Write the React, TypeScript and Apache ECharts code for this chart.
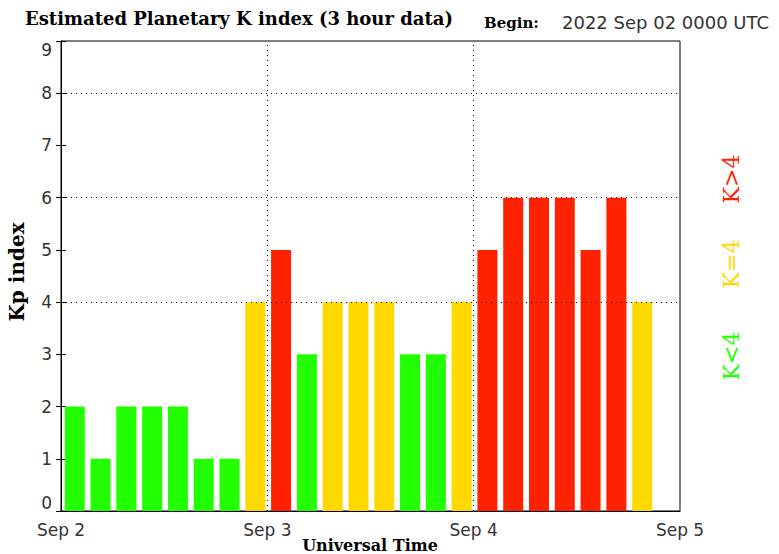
import React, { useEffect, useRef } from "react";
import * as echarts from "echarts";

const kpValues = [2, 1, 2, 2, 2, 1, 1, 4, 5, 3, 4, 4, 4, 3, 3, 4, 5, 6, 6, 6, 5, 6, 4];
const dayLabels = ["Sep 2", "Sep 3", "Sep 4", "Sep 5"];
const yTicks = [0, 1, 2, 3, 4, 5, 6, 7, 8, 9];
const gridLevels = [4, 6, 8];
const dayBoundaries = [24, 48];

const GREEN = "#22ff00";
const YELLOW = "#ffd800";
const RED = "#ff2200";

function colorFor(v: number) {
  if (v < 4) return GREEN;
  if (v === 4) return YELLOW;
  return RED;
}

export default function App() {
  const ref = useRef<HTMLDivElement>(null);
  useEffect(() => {
    if (!ref.current) return;
    const chart = echarts.init(ref.current, null, { renderer: "svg" });
    const barCenters = kpValues.map((_, i) => i * 3 + 1.6);
    const data = kpValues.map((v, i) => ({
      value: [barCenters[i], v],
      itemStyle: { color: colorFor(v) },
    }));
    const serif = "'DejaVu Serif', serif";
    const sans = "'DejaVu Sans', sans-serif";
    chart.setOption({
      animation: false,
      backgroundColor: "#fff",
      grid: {
        left: 61,
        top: 41,
        width: 619,
        height: 470,
        show: true,
        borderColor: "#000",
        borderWidth: 1,
      },
      xAxis: [
        {
          type: "value",
          min: 0,
          max: 72,
          interval: 24,
          axisLine: { show: true, lineStyle: { color: "#000", width: 1 } },
          axisTick: { show: false },
          splitLine: { show: false },
          axisLabel: {
            margin: 10,
            fontFamily: sans,
            fontSize: 17,
            color: "#333",
            formatter: (v: number) => dayLabels[Math.round(v / 24)] ?? "",
          },
        },
        {
          type: "value",
          min: 0,
          max: 72,
          position: "bottom",
          axisLine: { show: false },
          axisLabel: { show: false },
          splitLine: { show: false },
          axisTick: {
            show: true,
            inside: true,
            length: 6,
            customValues: barCenters,
            lineStyle: { color: "#fff", width: 1 },
          },
        },
      ],
      yAxis: [
        {
          type: "value",
          min: 0,
          max: 9,
          interval: 1,
          axisLine: { show: true, lineStyle: { color: "#000", width: 1 } },
          axisTick: { show: true, inside: true, length: 5, lineStyle: { color: "#000" } },
          splitLine: { show: false },
          axisLabel: {
            margin: 9,
            fontFamily: sans,
            fontSize: 17,
            color: "#333",
            verticalAlignMinLabel: "bottom",
            verticalAlignMaxLabel: "top",
            formatter: (v: number) => (yTicks.includes(v) ? String(v) : ""),
          },
        },
        {
          type: "value",
          min: 0,
          max: 9,
          interval: 1,
          position: "right",
          axisLine: { show: true, lineStyle: { color: "#000", width: 1 } },
          axisTick: { show: true, inside: true, length: 5, lineStyle: { color: "#000" } },
          splitLine: { show: false },
          axisLabel: { show: false },
        },
      ],
      series: [
        {
          type: "bar",
          xAxisIndex: 0,
          yAxisIndex: 0,
          barWidth: 20,
          data,
          z: 2,
          markLine: {
            silent: true,
            symbol: "none",
            label: { show: false },
            lineStyle: { type: [1, 4], color: "#000", width: 1 },
            data: [
              ...gridLevels.map((y) => ({ yAxis: y })),
              ...dayBoundaries.map((x) => ({ xAxis: x })),
            ],
          },
        },
      ],
      graphic: [
        {
          type: "text",
          left: 25,
          top: 9,
          style: {
            text: "Estimated Planetary K index (3 hour data)",
            font: `bold 18px ${serif}`,
            fill: "#000",
          },
        },
        {
          type: "text",
          left: 484,
          top: 15,
          style: { text: "Begin:", font: `bold 15px ${serif}`, fill: "#000" },
        },
        {
          type: "text",
          left: 562,
          top: 13,
          style: { text: "2022 Sep 02 0000 UTC", font: `18px ${sans}`, fill: "#333" },
        },
        {
          type: "text",
          x: 17,
          y: 272,
          rotation: Math.PI / 2,
          style: {
            text: "Kp index",
            font: `bold 20px ${serif}`,
            fill: "#000",
            align: "center",
            verticalAlign: "middle",
          },
        },
        {
          type: "text",
          x: 370,
          y: 545,
          style: {
            text: "Universal Time",
            font: `bold 16px ${serif}`,
            fill: "#000",
            align: "center",
            verticalAlign: "middle",
          },
        },
        {
          type: "text",
          x: 731,
          y: 179,
          rotation: Math.PI / 2,
          style: { text: "K>4", font: `22px ${serif}`, fill: RED, align: "center", verticalAlign: "middle" },
        },
        {
          type: "text",
          x: 731,
          y: 264,
          rotation: Math.PI / 2,
          style: { text: "K=4", font: `22px ${serif}`, fill: YELLOW, align: "center", verticalAlign: "middle" },
        },
        {
          type: "text",
          x: 731,
          y: 356,
          rotation: Math.PI / 2,
          style: { text: "K<4", font: `22px ${serif}`, fill: GREEN, align: "center", verticalAlign: "middle" },
        },
      ],
    });
    return () => chart.dispose();
  }, []);
  return (
    <div
      ref={ref}
      style={{ position: "fixed", left: 0, top: 0, width: 779, height: 554 }}
    />
  );
}
